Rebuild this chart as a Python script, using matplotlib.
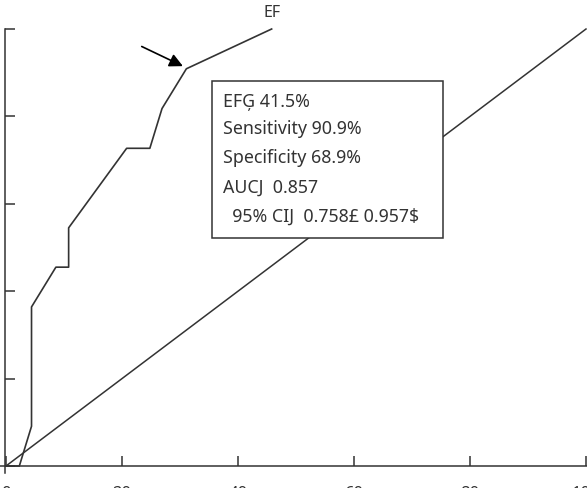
import matplotlib
matplotlib.use("Agg")
import matplotlib.pyplot as plt
from matplotlib.patches import Rectangle

# ROC curve (1 - specificity %, sensitivity %)
fpr = [0, 2.3, 4.4, 4.4, 8.6, 10.8, 10.8, 20.8, 24.8, 26.9, 31.1, 45.8]
sens = [0, 0, 9.1, 36.4, 45.5, 45.5, 54.5, 72.7, 72.7, 81.8, 90.9, 100]
ref_x = [0, 100]
ref_y = [0, 100]
xticks = [0, 20, 40, 60, 80, 100]
yticks = [0, 20, 40, 60, 80, 100]
cutoff = (31.1, 90.9)
info_lines = ["EFĢ 41.5%", "Sensitivity 90.9%", "Specificity 68.9%",
              "AUCJ  0.857", "  95% CIJ  0.758£ 0.957$"]
curve_label = "EF"

plt.rcParams['font.family'] = ['Noto Sans', 'DejaVu Sans']
col = '#333333'

fig = plt.figure(figsize=(5.87, 4.89), dpi=100)
ax = fig.add_axes([0, 0, 1, 1])
ax.set_xlim(-6 / 5.8, 581 / 5.8)
ax.set_ylim(-22 / 4.37, 467 / 4.37)

ax.plot(fpr, sens, color=col, lw=1.2, clip_on=False)
ax.plot(ref_x, ref_y, color=col, lw=1.1, clip_on=False)

ax.annotate("", xy=(cutoff[0] - 0.6, cutoff[1] + 0.6), xytext=(23.4, 96.0),
            arrowprops=dict(arrowstyle='-|>', color='black', lw=1.2,
                            mutation_scale=20, shrinkA=0, shrinkB=0))
ax.text(45.9, 103.8, curve_label, ha='center', va='center', fontsize=11.5, color=col)

ax.add_patch(Rectangle((35.5, 52.2), 39.8, 35.9, fill=True, facecolor='white',
                       edgecolor=col, lw=1.1, zorder=3))
ys = [83.5, 77.3, 70.7, 63.8, 57.2]
for t, y in zip(info_lines, ys):
    ax.text(37.4, y, t, ha='left', va='center', fontsize=12.8, color=col, zorder=4)

for s in ['top', 'right']:
    ax.spines[s].set_visible(False)
ax.spines['left'].set_position(('data', -0.15))
ax.spines['bottom'].set_position(('data', 0))
ax.spines['left'].set_bounds(-1.5, 100)
ax.spines['left'].set_color(col)
ax.spines['bottom'].set_color(col)
ax.spines['left'].set_linewidth(1.1)
ax.spines['bottom'].set_linewidth(1.1)
ax.set_xticks(xticks)
ax.set_yticks(yticks)
ax.tick_params(axis='x', direction='in', length=7, width=1.1, color=col,
               labelsize=12, labelcolor=col, pad=14)
ax.tick_params(axis='y', direction='in', length=7, width=1.1, color=col,
               labelleft=False)
ax.patch.set_visible(False)

fig.savefig("out.png", dpi=100)
